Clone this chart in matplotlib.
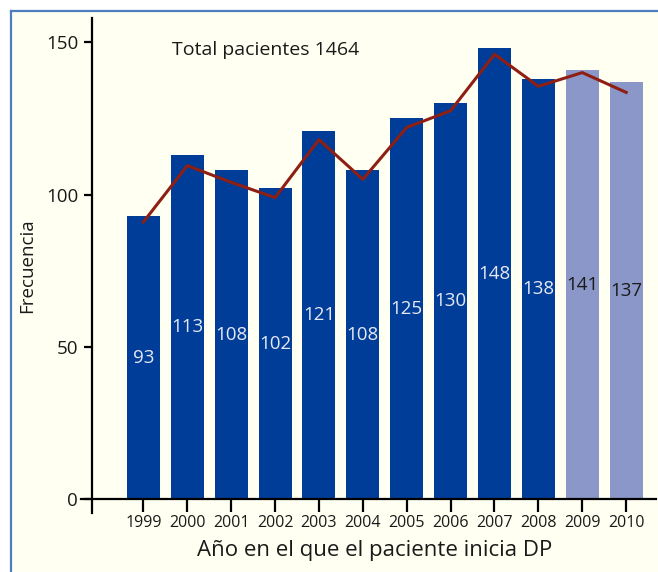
import matplotlib
matplotlib.use('Agg')
import matplotlib.pyplot as plt
from matplotlib.lines import Line2D
from matplotlib.patches import Rectangle

plt.rcParams['font.family'] = ['Open Sans', 'DejaVu Sans']

# datos
years = ['1999', '2000', '2001', '2002', '2003', '2004',
         '2005', '2006', '2007', '2008', '2009', '2010']
pacientes = [93, 113, 108, 102, 121, 108, 125, 130, 148, 138, 141, 137]
tendencia = [91, 109.5, 104, 99, 118, 105, 122, 127.5, 146, 135.5, 140, 133.5]
total = 1464

azul = '#003D99'
azul_claro = '#8A97C8'
rojo = '#8E1F12'
fondo = '#FFFFF2'

fig = plt.figure(figsize=(6.58, 5.72), dpi=100)
fig.patch.set_facecolor('white')

# marco de fondo (solo borde izquierdo y superior)
x0, y0 = 11 / 658, 1 - 11 / 572
fig.patches.append(Rectangle((x0, 0), 1 - x0, y0, transform=fig.transFigure,
                             facecolor=fondo, edgecolor='none', zorder=-10))
fig.lines.append(Line2D([x0, x0], [0, y0], transform=fig.transFigure,
                        color='#4F7EC0', lw=1.6, zorder=-9))
fig.lines.append(Line2D([x0, 1], [y0, y0], transform=fig.transFigure,
                        color='#4F7EC0', lw=1.6, zorder=-9))

ax = fig.add_axes([81 / 658, 1 - 513 / 572, 575 / 658, 495 / 572])
ax.set_facecolor('none')

x = list(range(len(years)))
colores = [azul] * 10 + [azul_claro] * 2
ax.bar(x, pacientes, width=0.75, color=colores, zorder=2)
ax.plot(x, tendencia, color=rojo, lw=2.2, zorder=3)

for i, v in enumerate(pacientes):
    c = '#E6E8F2' if i < 10 else '#1A1A1A'
    ax.text(i, v / 2, str(v), ha='center', va='center', fontsize=13.5,
            color=c, zorder=4)

ax.text(2.79, 147.4, 'Total pacientes {}'.format(total), ha='center',
        va='center', fontsize=14, color='#1A1A1A')

ax.set_xlim(-1.422, 11.68)
ax.set_ylim(-4.43, 157.9)

for s in ['top', 'right']:
    ax.spines[s].set_visible(False)
ax.spines['left'].set_position(('data', -1.17))
ax.spines['bottom'].set_position(('data', 0))
ax.spines['left'].set_linewidth(1.6)
ax.spines['bottom'].set_linewidth(1.6)

ax.set_xticks(x)
ax.set_xticklabels(years, fontsize=11.5, color='#1A1A1A')
ax.set_yticks([0, 50, 100, 150])
ax.set_yticklabels(['0', '50', '100', '150'], fontsize=13.5, color='#1A1A1A')
ax.tick_params(axis='x', direction='out', length=9.5, width=1.6, pad=2)
ax.tick_params(axis='y', direction='out', length=6, width=1.6, pad=4)

ax.set_ylabel('Frecuencia', fontsize=13.5, color='#1A1A1A')
ax.yaxis.label.set_va('center')
ax.yaxis.set_label_coords(-0.094, 0.5)
ax.set_xlabel('Año en el que el paciente inicia DP', fontsize=16,
              color='#1A1A1A')
ax.xaxis.label.set_va('center')
ax.xaxis.set_label_coords(0.511, -0.075)

plt.savefig('out.png', dpi=100, facecolor=fig.get_facecolor())
